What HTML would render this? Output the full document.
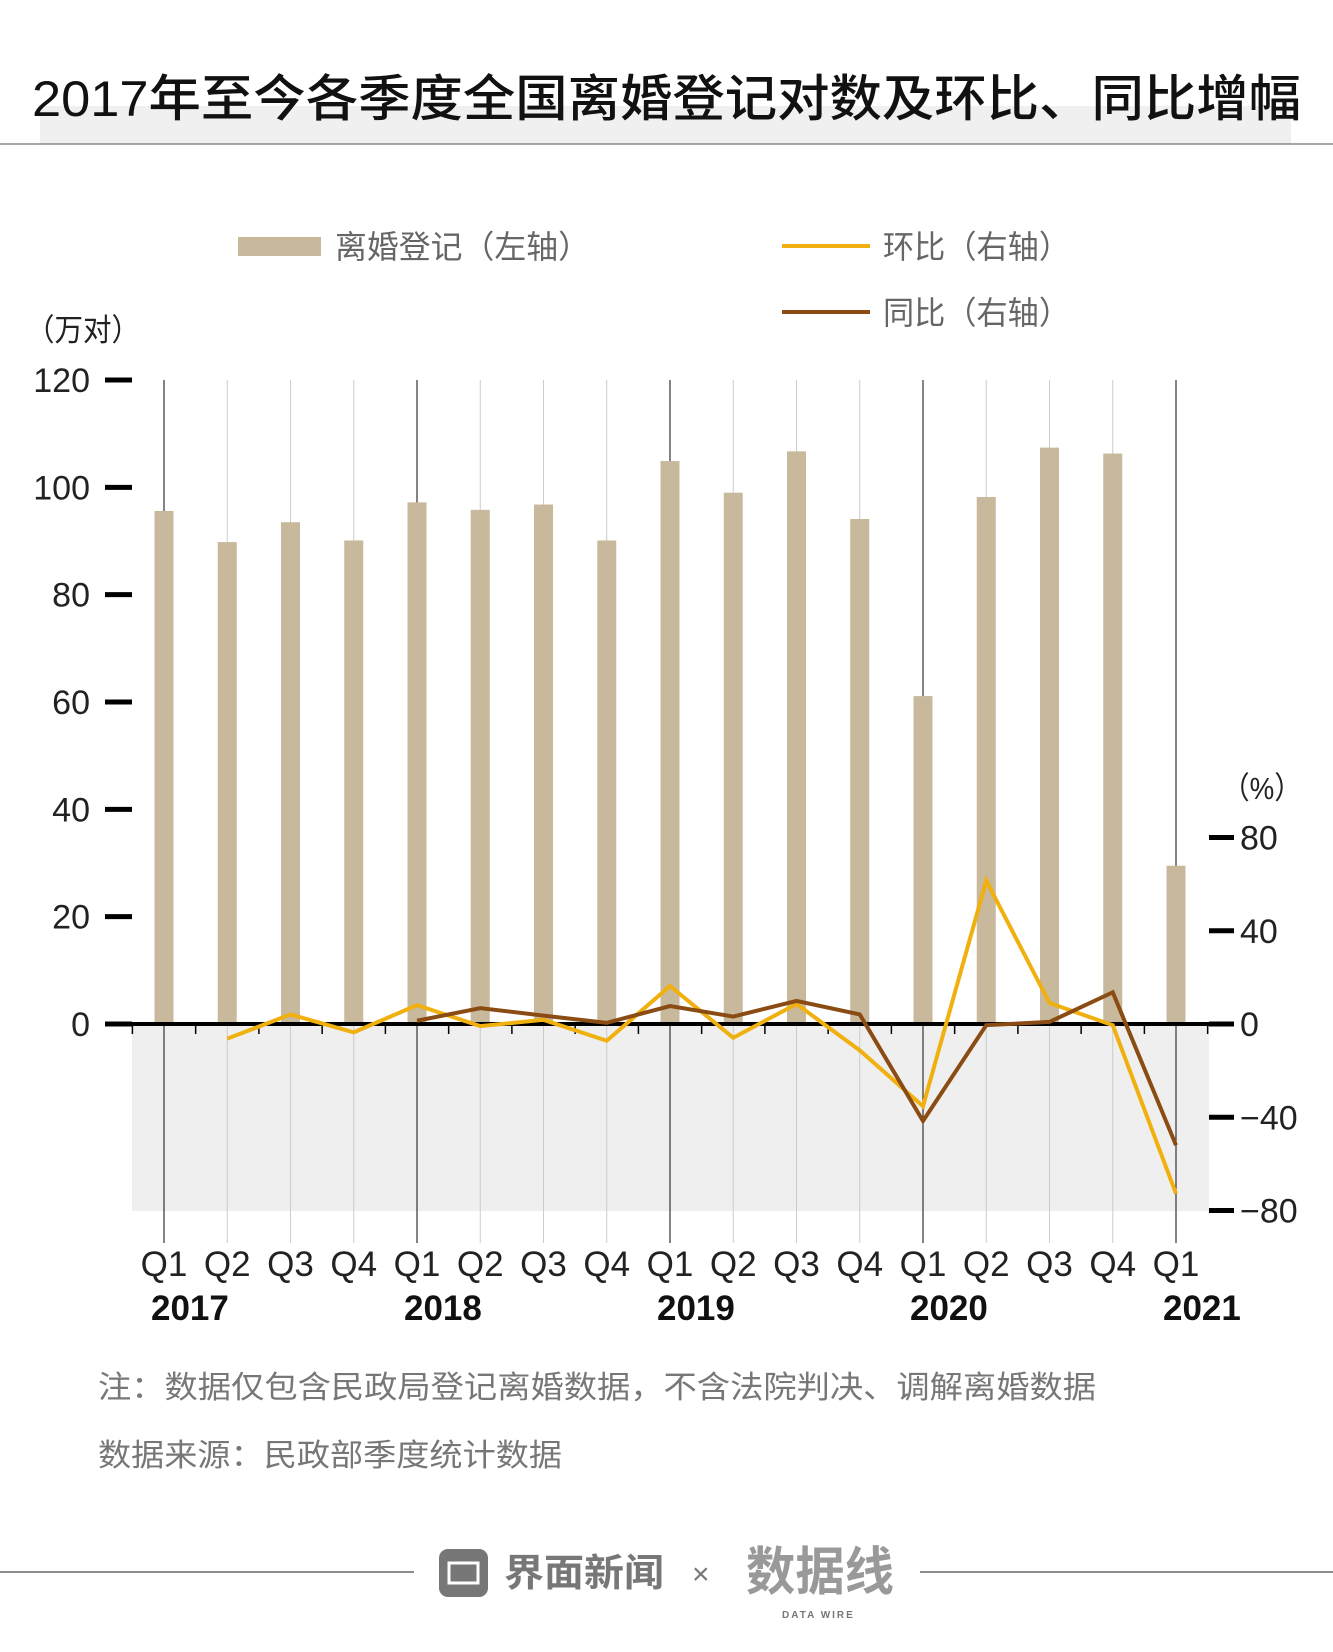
<!DOCTYPE html>
<html><head><meta charset="utf-8"><style>
html,body{margin:0;padding:0;background:#fff;}
svg{display:block;font-family:"Liberation Sans","Noto Sans CJK SC",sans-serif;}
</style></head><body>
<svg id="chart" width="1333" height="1652" viewBox="0 0 1333 1652">
<rect x="40" y="106" width="1251" height="38" fill="#f0f0f0"/>
<text x="32" y="116" font-size="50" font-weight="500" fill="#111" textLength="1269" lengthAdjust="spacingAndGlyphs">2017年至今各季度全国离婚登记对数及环比、同比增幅</text>
<line x1="0" y1="144" x2="1333" y2="144" stroke="#888" stroke-width="1.5"/>
<g>
<rect x="238" y="237" width="83" height="19" fill="#c8b89c"/>
<text x="335" y="258" font-size="32" fill="#666" textLength="255" lengthAdjust="spacingAndGlyphs">离婚登记（左轴）</text>
<line x1="782" y1="246" x2="870" y2="246" stroke="#f0b110" stroke-width="4"/>
<text x="883" y="258" font-size="32" fill="#666" textLength="187" lengthAdjust="spacingAndGlyphs">环比（右轴）</text>
<line x1="782" y1="312" x2="870" y2="312" stroke="#8b4c14" stroke-width="4"/>
<text x="883" y="324" font-size="32" fill="#666" textLength="187" lengthAdjust="spacingAndGlyphs">同比（右轴）</text>
</g>
<text x="26" y="341" font-size="31" fill="#222" textLength="114" lengthAdjust="spacingAndGlyphs">（万对）</text>
<text x="1222" y="799" font-size="31" fill="#222" textLength="80" lengthAdjust="spacingAndGlyphs">（%）</text>
<rect x="132" y="1024" width="1077" height="187" fill="#efefef"/>
<g id="grid"></g><g id="bars"></g><g id="axes"></g><g id="lines"></g><g id="xlabels"></g>
<text x="98" y="1398" font-size="31" fill="#777" textLength="998" lengthAdjust="spacingAndGlyphs">注：数据仅包含民政局登记离婚数据，不含法院判决、调解离婚数据</text>
<text x="98" y="1466" font-size="31" fill="#777" textLength="464" lengthAdjust="spacingAndGlyphs">数据来源：民政部季度统计数据</text>
<g>
<line x1="0" y1="1572" x2="414" y2="1572" stroke="#666" stroke-width="1.5"/>
<line x1="920" y1="1572" x2="1333" y2="1572" stroke="#666" stroke-width="1.5"/>
<rect x="439" y="1549" width="49" height="48" rx="9" fill="#777"/>
<rect x="449" y="1563" width="29" height="20" fill="none" stroke="#fff" stroke-width="3"/>
<text x="504" y="1586" font-size="38" font-weight="bold" fill="#777" textLength="160" lengthAdjust="spacingAndGlyphs">界面新闻</text>
<text x="692" y="1584" font-size="30" fill="#777">×</text>
<text x="746" y="1590" font-size="52" font-weight="bold" fill="#888" opacity="0.85" textLength="148" lengthAdjust="spacingAndGlyphs">数据线</text>
<text x="782" y="1618" font-size="10" font-weight="bold" fill="#777" letter-spacing="2">DATA WIRE</text>
</g>
</svg>
<script>
const categories=["Q1","Q2","Q3","Q4","Q1","Q2","Q3","Q4","Q1","Q2","Q3","Q4","Q1","Q2","Q3","Q4","Q1"];
const years=["2017","2018","2019","2020","2021"];
const divorces=[95.6,89.8,93.5,90.1,97.2,95.8,96.8,90.1,104.9,99.0,106.7,94.1,61.1,98.2,107.4,106.3,29.5];
const qoq=[null,-6.3,4.1,-3.6,8.1,-0.9,1.8,-7.2,16.3,-5.9,8.6,-11.3,-35.3,61.5,9.0,-0.5,-72.8];
const yoy=[null,null,null,null,1.4,6.8,3.6,0.5,7.7,3.2,9.9,4.1,-41.6,-0.5,0.9,13.6,-52.0];
const leftTicks=[0,20,40,60,80,100,120];
const rightTicks=[-80,-40,0,40,80];
const NS="http://www.w3.org/2000/svg";
const x=i=>164+i*63.25;
const yL=v=>1024-v*(644/120);
const yR=v=>1024-v*(186.5/80);
function mk(tag,attrs,parent,txt){const e=document.createElementNS(NS,tag);for(const k in attrs)e.setAttribute(k,attrs[k]);if(txt!==undefined)e.textContent=txt;document.getElementById(parent).appendChild(e);return e;}
categories.forEach((c,i)=>{
  const g=mk('line',{x1:x(i),x2:x(i),y1:380,y2:1243,stroke:i%4===0?'#333':'#ccc','stroke-width':i%4===0?1.2:1},'grid');
  
  
  const b=mk('rect',{x:x(i)-9.5,y:yL(divorces[i]),width:19,height:1024-yL(divorces[i]),fill:'#c8b89c'},'bars');
  
  
  const t=mk('text',{x:x(i),y:1276,'font-size':35,'text-anchor':'middle',fill:'#222'},'xlabels',c);
  
  
});
years.forEach((yv,k)=>{
  const t=mk('text',{x:x(k*4)-13,y:1320,'font-size':35,'font-weight':'bold',fill:'#111'},'xlabels',yv);
  
  
});
leftTicks.forEach(v=>{
  const l=mk('line',{x1:105,x2:132,y1:yL(v),y2:yL(v),stroke:'#000','stroke-width':5},'axes');
  
  
  const t=mk('text',{x:90,y:yL(v)+12,'font-size':34,'text-anchor':'end',fill:'#222'},'axes',v);
  
  
});
rightTicks.forEach(v=>{
  const l=mk('line',{x1:1209,x2:1234,y1:yR(v),y2:yR(v),stroke:'#000','stroke-width':5},'axes');
  
  
  const t=mk('text',{x:1240,y:yR(v)+12,'font-size':34,fill:'#222'},'axes',v<0?'−'+(-v):v);
  
  
});
const z=mk('line',{x1:105,x2:1234,y1:1024,y2:1024,stroke:'#000','stroke-width':4},'axes');


for(let i=0;i<=categories.length;i++){
  const m=mk('line',{x1:x(i)-31.6,x2:x(i)-31.6,y1:1024,y2:1034,stroke:'#000','stroke-width':1.5},'axes');
  
  
}
function series(arr,color,name){
  const pts=arr.map((v,i)=>v===null?null:x(i)+','+yR(v)).filter(p=>p).join(' ');
  const p=mk('polyline',{points:pts,fill:'none',stroke:color,'stroke-width':4,'stroke-linejoin':'miter'},'lines');
  
  
}
series(qoq,'#f0b110','line-qoq');
series(yoy,'#8b4c14','line-yoy');
</script>
</body></html>
